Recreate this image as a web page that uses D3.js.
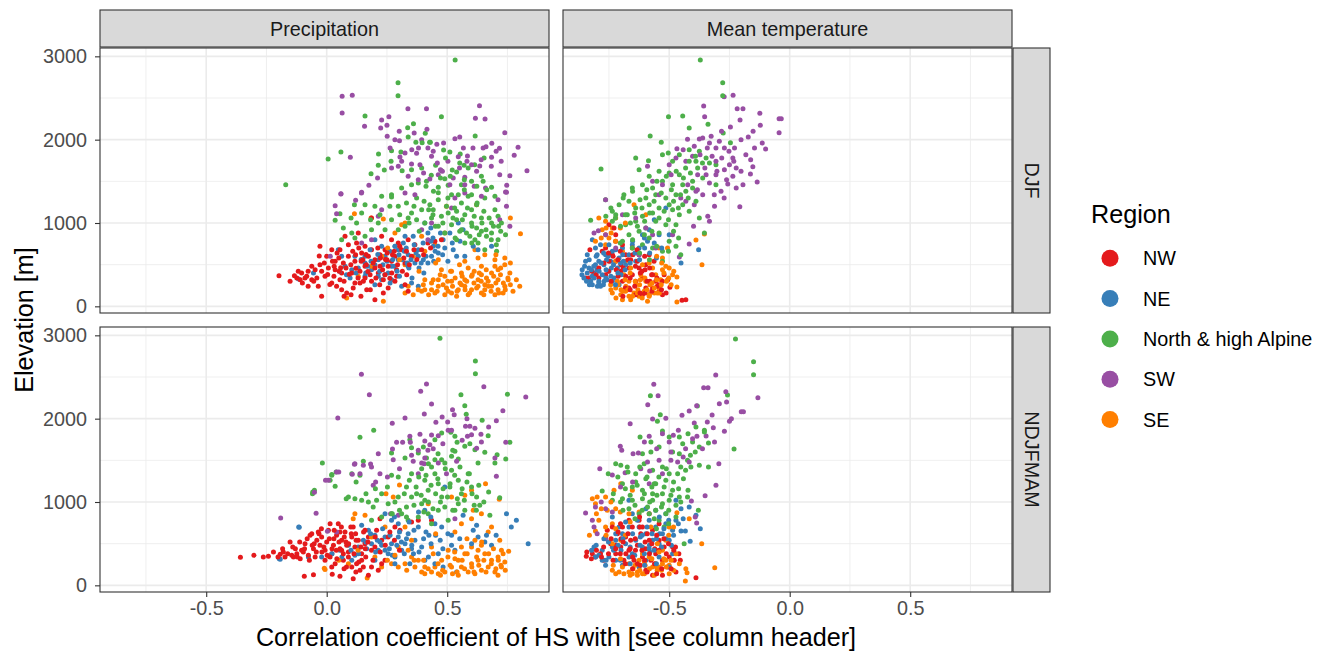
<!DOCTYPE html>
<html>
<head>
<meta charset="utf-8">
<script src="https://cdn.jsdelivr.net/npm/d3@7"></script>
<style>
  body { margin: 0; background: #fff; }
  svg { display: block; }
  text { font-family: "Liberation Sans", Arial, Helvetica, sans-serif; }
</style>
</head>
<body>
<svg id="chart" width="1327" height="657"></svg>
<script>
// ---- facet labels, categories, ticks ----
const columns = ["Precipitation", "Mean temperature"];
const rows = ["DJF", "NDJFMAM"];
const regions = ["NW", "NE", "North & high Alpine", "SW", "SE"];
const regionColors = ["#E41A1C", "#377EB8", "#4DAF4A", "#984EA3", "#FF7F00"];
const xTicks = [-0.5, 0, 0.5];
const yTicks = [0, 1000, 2000, 3000];
const xMinorTicks = [-0.75, -0.25, 0.25, 0.75];
const yMinorTicks = [500, 1500, 2500];

// ---- station values: [correlation, elevation (m)] ----
// Precipitation, DJF
const precipDJF_NW = [[-0.198,368],[-0.124,340],[-0.104,400],[-0.077,420],[-0.048,440],[-0.028,720],[-0.028,500],[-0.041,340],[-0.035,240],[-0.021,120],[-0.077,240],[0.0,600],[0.021,680],[0.035,440],[0.055,320],[0.062,200],[0.090,600],[0.104,400],[0.124,760],[0.145,640],[0.159,480],[0.138,280],[0.166,200],[0.186,680],[0.200,560],[0.214,400],[0.200,80],[0.235,160],[0.242,680],[0.255,480],[0.269,800],[0.283,600],[0.290,360],[0.311,680],[0.325,520],[0.338,800],[0.352,600],[0.366,740],[0.394,680],[0.420,760],[0.449,780],[0.476,800],[0.186,1060],[0.076,840],[0.021,280],[0.083,160],[0.110,220],[0.041,240],[-0.007,360],[-0.062,320],[-0.110,320],[-0.090,340],[-0.134,368],[-0.021,420],[0.007,460],[0.069,520],[0.117,540],[0.173,600],[0.221,620],[0.269,540],[0.290,440],[0.159,340],[0.186,300],[0.235,320],[0.255,220],[0.325,260],[0.338,180],[0.055,680],[0.131,880],[0.090,740],[0.062,400],[0.138,420],[0.221,480],[0.242,380],[0.297,760],[0.228,840],[0.159,720],[0.035,540],[0.117,280],[0.05,580],[0.10,500],[0.15,560],[0.20,460],[0.25,560],[0.12,620],[0.18,380],[0.08,460],[0.28,660],[0.32,580],[0.03,360],[-0.01,520],[0.13,340],[0.22,260],[0.27,400],
  [-0.152,300],[-0.118,420],[-0.083,362],[-0.054,300],[-0.031,604],[0.004,382],[0.013,262],[0.024,541],[0.043,640],[0.058,462],[0.072,300],[0.094,384],[0.108,662],[0.121,458],[0.143,540],[0.152,302],[0.163,622],[0.171,418],[0.193,521],[0.204,340],[0.212,700],[0.232,440],[0.244,562],[0.262,338],[0.273,620],[0.294,500],[0.303,720],[0.314,420],[0.331,660],[0.343,500],[0.362,680],[0.374,562],[0.402,620],[0.431,700],[0.101,140],[0.142,120],[0.181,200],[0.072,120],[0.251,640],[0.133,700],[0.052,420],[0.164,500],[0.223,580],[0.031,480],[-0.062,480],[-0.101,280],[0.283,300],[0.332,380]];
const precipDJF_NE = [[-0.117,328],[-0.055,400],[0.048,680],[0.076,480],[0.104,440],[0.131,460],[0.159,520],[0.186,440],[0.214,560],[0.242,600],[0.269,480],[0.297,680],[0.297,560],[0.318,760],[0.338,620],[0.359,840],[0.380,680],[0.407,1000],[0.420,880],[0.442,720],[0.463,640],[0.483,800],[0.490,700],[0.511,880],[0.525,680],[0.539,600],[0.566,920],[0.228,320],[0.200,260],[0.269,320],[0.311,240],[0.352,280],[0.380,240],[0.255,400],[0.159,360],[0.097,340],[0.062,600],[0.117,600],[0.180,680],[0.228,720],[0.283,720],[0.325,840],[0.366,520],[0.401,560],[0.435,600],[0.608,720],[0.546,1000],[0.628,680],[0.684,720],[0.573,600],[0.420,520],[0.338,480],[0.200,800],[0.159,600],[0.20,500],[0.25,540],[0.30,620],[0.35,560],[0.28,480],[0.33,700],[0.38,600],[0.40,760],[0.45,660],[0.22,420],[0.17,480],
  [0.122,400],[0.143,562],[0.184,540],[0.212,622],[0.233,500],[0.241,380],[0.262,660],[0.274,562],[0.292,420],[0.313,560],[0.322,662],[0.341,460],[0.363,740],[0.371,640],[0.392,520],[0.412,600],[0.433,780],[0.444,540],[0.462,720],[0.481,620],[0.503,540],[0.521,760],[0.472,880],[0.432,940],[0.553,780],[0.302,360],[0.263,280],[0.354,340],[0.403,400],[0.082,380],[0.053,420],[0.162,400],[0.214,360],[0.383,460],[0.334,520],[0.284,720],[0.441,820]];
const precipDJF_North = [[0.533,2956],[0.296,2684],[0.296,2528],[0.159,2284],[0.476,2276],[0.336,2144],[0.360,2192],[0.338,2032],[0.616,2044],[0.427,1968],[0.409,2076],[0.059,1852],[0.006,1768],[-0.170,1460],[0.215,1828],[0.269,1868],[0.214,1692],[0.184,1592],[0.239,1636],[0.267,1740],[0.308,1852],[0.370,1968],[0.396,1964],[0.430,1968],[0.485,1876],[0.511,1852],[0.554,1828],[0.653,1780],[0.614,1700],[0.570,1692],[0.521,1636],[0.476,1628],[0.452,1692],[0.394,1660],[0.352,1640],[0.313,1628],[0.380,1480],[0.434,1572],[0.490,1532],[0.539,1612],[0.587,1660],[0.642,1560],[0.684,1428],[0.649,1500],[0.601,1500],[0.559,1460],[0.504,1452],[0.463,1428],[0.414,1500],[0.352,1460],[0.311,1420],[0.269,1340],[0.601,1340],[0.698,1320],[0.546,1340],[0.055,1112],[0.035,1032],[0.069,940],[0.104,880],[0.062,800],[0.124,1000],[0.145,1120],[0.115,1220],[0.159,1220],[0.200,1200],[0.228,1320],[0.269,1312],[0.297,1200],[0.331,1240],[0.373,1300],[0.394,1160],[0.428,1220],[0.463,1280],[0.497,1200],[0.518,1340],[0.559,1240],[0.587,1320],[0.622,1220],[0.656,1300],[0.698,1160],[0.711,1080],[0.684,1000],[0.642,1060],[0.601,1000],[0.573,1100],[0.539,1040],[0.504,1120],[0.518,980],[0.559,920],[0.594,840],[0.628,760],[0.656,680],[0.705,660],[0.711,800],[0.684,880],[0.642,900],[0.615,800],[0.573,760],[0.539,800],[0.490,880],[0.463,960],[0.435,1060],[0.407,1000],[0.373,1040],[0.352,1120],[0.325,960],[0.297,920],[0.269,1040],[0.242,920],[0.214,1000],[0.186,920],[0.159,840],[0.117,820],[0.338,1060],[0.442,1160],[0.476,1080],[0.601,1160],[0.622,940],[0.663,840],[0.725,1000],[0.539,1140],[0.580,880],
  [0.362,1200],[0.404,1262],[0.441,1100],[0.463,1362],[0.482,1000],[0.503,1300],[0.524,1060],[0.531,1180],[0.552,900],[0.563,1040],[0.571,1400],[0.584,1180],[0.603,960],[0.612,1080],[0.624,1240],[0.633,860],[0.644,1000],[0.652,1140],[0.661,920],[0.674,1060],[0.683,800],[0.692,960],[0.704,740],[0.722,900],[0.451,960],[0.423,1160],[0.384,900],[0.342,1000],[0.303,1100],[0.262,1200],[0.221,1100],[0.472,1540],[0.513,1560],[0.412,1440],[0.571,1520],[0.623,1440],[0.664,1400],[0.552,1720],[0.493,1780],[0.443,1380],[0.602,760],[0.533,820],[0.742,860],[0.713,960],[0.101,1060],[0.182,1040]];
const precipDJF_SW = [[0.064,2520],[0.106,2532],[0.064,2320],[0.337,2372],[0.414,2372],[0.634,2408],[0.617,2256],[0.657,2248],[0.739,2084],[0.228,2236],[0.258,2276],[0.224,2140],[0.250,2172],[0.157,2160],[0.251,2040],[0.283,2000],[0.302,1988],[0.363,2080],[0.416,2124],[0.394,2000],[0.420,1900],[0.457,1944],[0.485,1960],[0.532,2012],[0.552,2032],[0.567,1900],[0.607,1900],[0.649,1900],[0.661,1916],[0.685,1956],[0.717,1896],[0.794,1908],[0.778,1812],[0.684,1788],[0.546,1796],[0.584,1804],[0.601,1700],[0.635,1684],[0.098,1788],[0.304,1792],[0.325,1840],[0.373,1836],[0.311,1740],[0.352,1708],[0.387,1700],[0.435,1800],[0.459,1720],[0.480,1620],[0.525,1540],[0.573,1548],[0.718,1580],[0.760,1568],[0.831,1628],[0.297,1680],[0.269,1660],[0.211,1540],[0.175,1452],[0.144,1360],[0.059,1348],[0.338,1560],[0.380,1520],[0.428,1528],[0.463,1580],[0.511,1460],[0.573,1460],[0.612,1440],[0.659,1420],[0.747,1452],[0.742,1372],[0.059,1352],[0.145,1368],[0.120,1272],[0.035,1208],[0.041,1112],[0.214,1080],[0.228,1160],[0.145,760],[0.186,800],[0.015,600],[0.325,1360],[0.366,1340],[0.394,920],[0.420,800],[0.435,1000],[0.573,1360],[0.642,1320],[0.711,1280],[0.746,1200],[0.760,960],[0.718,1040],[0.746,1368],[0.532,1300],[0.518,1180],
  [0.381,1900],[0.442,1862],[0.503,1740],[0.551,1660],[0.622,1620],[0.683,1680],[0.724,1740],[0.472,1640],[0.402,1600],[0.353,1880],[0.301,2100],[0.263,1900],[0.582,1740],[0.641,1760],[0.703,1860]];
const precipDJF_SE = [[0.115,1112],[0.184,1060],[0.235,1048],[0.311,980],[0.497,1200],[0.622,1220],[0.762,1060],[0.804,872],[0.490,880],[0.449,740],[0.407,660],[0.359,600],[0.325,500],[0.228,600],[0.186,480],[0.131,360],[0.083,100],[0.235,60],[0.656,620],[0.698,560],[0.739,580],[0.615,680],[0.573,540],[0.325,160],[0.359,140],[0.394,180],[0.435,200],[0.463,240],[0.497,220],[0.518,160],[0.546,200],[0.573,240],[0.601,200],[0.628,240],[0.656,200],[0.684,240],[0.711,200],[0.739,240],[0.753,320],[0.760,400],[0.711,440],[0.684,400],[0.642,380],[0.601,360],[0.559,400],[0.518,420],[0.490,360],[0.463,320],[0.476,440],[0.518,300],[0.573,320],[0.628,320],[0.670,300],[0.711,320],[0.732,160],[0.698,140],[0.642,160],[0.587,140],[0.539,120],[0.490,140],[0.449,160],[0.407,200],[0.338,240],[0.739,500],[0.698,480],[0.787,320],[0.801,240],[0.587,460],[0.642,480],[0.628,580],[0.559,260],[0.504,180],[0.656,260],[0.435,280],[0.380,200],[0.407,320],[0.325,1000],[0.394,840],[0.283,880],[0.463,560],
  [0.401,260],[0.423,140],[0.442,320],[0.458,180],[0.471,380],[0.483,260],[0.502,300],[0.514,420],[0.522,240],[0.533,340],[0.541,180],[0.553,280],[0.562,360],[0.574,200],[0.581,300],[0.593,160],[0.604,380],[0.611,280],[0.622,220],[0.633,400],[0.641,300],[0.652,140],[0.663,340],[0.671,240],[0.682,180],[0.693,360],[0.702,280],[0.714,160],[0.721,380],[0.733,280],[0.741,200],[0.752,340],[0.762,260],[0.773,180],[0.662,440],[0.612,420],[0.722,460],[0.551,500],[0.452,520],[0.383,420],[0.302,560],[0.253,700],[0.702,620],[0.762,520]];

// Mean temperature, DJF
const tempDJF_NW = [[-0.829,680],[-0.847,340],[-0.833,340],[-0.792,340],[-0.764,380],[-0.778,660],[-0.764,700],[-0.736,620],[-0.722,540],[-0.701,500],[-0.681,620],[-0.667,460],[-0.653,380],[-0.639,300],[-0.625,460],[-0.611,340],[-0.597,220],[-0.583,140],[-0.569,220],[-0.556,300],[-0.542,180],[-0.528,140],[-0.597,500],[-0.583,620],[-0.694,740],[-0.722,780],[-0.750,540],[-0.653,700],[-0.625,620],[-0.569,380],[-0.528,300],[-0.506,320],[-0.497,228],[-0.447,72],[-0.431,80],[-0.667,220],[-0.639,140],[-0.611,140],[-0.694,300],[-0.729,940],[-0.722,860],[-0.750,980],[-0.70,420],[-0.66,560],[-0.62,400],[-0.58,300],[-0.60,440],[-0.64,480],[-0.68,360],[-0.72,440],[-0.55,240],[-0.60,160],
  [-0.821,420],[-0.803,380],[-0.792,460],[-0.771,520],[-0.752,420],[-0.741,300],[-0.733,600],[-0.712,360],[-0.703,660],[-0.691,460],[-0.682,220],[-0.671,560],[-0.662,340],[-0.651,620],[-0.643,240],[-0.632,540],[-0.621,160],[-0.613,420],[-0.602,600],[-0.592,300],[-0.581,460],[-0.572,180],[-0.563,540],[-0.551,340],[-0.543,260],[-0.532,200],[-0.521,380],[-0.513,160],[-0.662,200],[-0.713,560],[-0.633,680],[-0.573,380],[-0.752,640],[-0.692,120]];
const tempDJF_NE = [[-0.861,440],[-0.854,340],[-0.847,540],[-0.826,300],[-0.819,260],[-0.812,400],[-0.806,500],[-0.799,620],[-0.819,800],[-0.792,300],[-0.785,240],[-0.778,380],[-0.771,500],[-0.764,620],[-0.757,320],[-0.750,420],[-0.743,540],[-0.736,660],[-0.729,340],[-0.715,460],[-0.708,580],[-0.694,700],[-0.681,500],[-0.667,620],[-0.653,740],[-0.639,540],[-0.625,700],[-0.611,860],[-0.590,780],[-0.583,920],[-0.562,1040],[-0.542,860],[-0.514,1180],[-0.500,860],[-0.451,520],[-0.378,680],[-0.833,460],[-0.840,620],[-0.806,700],[-0.785,740],[-0.736,300],[-0.708,260],[-0.792,540],[-0.750,740],[-0.84,400],[-0.80,440],[-0.77,300],[-0.74,460],[-0.70,380],[-0.82,360],[-0.76,560],[-0.69,540],
  [-0.862,380],[-0.851,480],[-0.843,300],[-0.832,560],[-0.823,440],[-0.812,340],[-0.803,600],[-0.798,240],[-0.791,420],[-0.782,520],[-0.773,260],[-0.762,440],[-0.753,600],[-0.742,360],[-0.731,500],[-0.722,680],[-0.713,400],[-0.702,520],[-0.683,440],[-0.662,520],[-0.642,640],[-0.623,560],[-0.602,700],[-0.581,640],[-0.562,760],[-0.553,580],[-0.531,700],[-0.831,260],[-0.792,280],[-0.763,340],[-0.813,480],[-0.772,640],[-0.723,260],[-0.693,620],[-0.652,780],[-0.603,820]];
const tempDJF_North = [[-0.371,2956],[-0.278,2684],[-0.278,2528],[-0.503,2276],[-0.444,2284],[-0.417,2140],[-0.579,2044],[-0.533,1968],[-0.339,2184],[-0.276,2080],[-0.246,1964],[-0.783,1648],[-0.639,1780],[-0.586,1748],[-0.528,1820],[-0.504,1840],[-0.486,1740],[-0.458,1820],[-0.417,1880],[-0.375,1860],[-0.333,1720],[-0.458,1580],[-0.500,1600],[-0.542,1620],[-0.583,1560],[-0.625,1640],[-0.611,1460],[-0.653,1420],[-0.688,1340],[-0.569,1420],[-0.528,1500],[-0.486,1460],[-0.444,1460],[-0.403,1500],[-0.361,1540],[-0.306,1460],[-0.389,1740],[-0.347,1780],[-0.306,1700],[-0.764,1280],[-0.826,1032],[-0.736,1140],[-0.708,1220],[-0.667,1260],[-0.639,1180],[-0.597,1300],[-0.556,1340],[-0.514,1300],[-0.472,1340],[-0.431,1380],[-0.583,1220],[-0.542,1180],[-0.500,1220],[-0.458,1100],[-0.417,1140],[-0.375,1060],[-0.736,1020],[-0.681,980],[-0.639,1020],[-0.597,940],[-0.556,1020],[-0.514,980],[-0.472,980],[-0.667,860],[-0.625,900],[-0.583,820],[-0.542,880],[-0.500,780],[-0.528,660],[-0.569,700],[-0.611,740],[-0.653,700],[-0.694,780],[-0.354,880],[-0.472,720],[-0.528,540],[-0.722,1100],[-0.674,1100],[-0.444,1220],[-0.389,1260],[-0.611,1080],[-0.569,1120],[-0.486,1160],[-0.417,1740],
  [-0.742,1180],[-0.723,1060],[-0.702,960],[-0.691,1300],[-0.682,1100],[-0.661,1000],[-0.652,1380],[-0.643,1120],[-0.632,960],[-0.621,1280],[-0.613,1180],[-0.602,1020],[-0.593,1400],[-0.581,1120],[-0.572,900],[-0.563,1260],[-0.551,1500],[-0.542,1060],[-0.533,1360],[-0.521,1140],[-0.512,1560],[-0.503,1040],[-0.491,1400],[-0.482,1260],[-0.471,1620],[-0.462,1180],[-0.453,1340],[-0.441,1540],[-0.432,1660],[-0.421,1300],[-0.412,1600],[-0.403,1420],[-0.391,1800],[-0.382,1660],[-0.362,1720],[-0.652,800],[-0.603,860],[-0.552,720],[-0.503,660],[-0.482,900],[-0.461,820],[-0.452,620],[-0.703,760],[-0.763,1080],[-0.623,640],[-0.582,560]];
const tempDJF_SW = [[-0.272,2516],[-0.235,2532],[-0.357,2404],[-0.353,2276],[-0.218,2372],[-0.194,2372],[-0.124,2316],[-0.206,2236],[-0.122,2172],[-0.044,2252],[-0.035,2252],[-0.044,2084],[-0.172,2032],[-0.246,2152],[-0.283,2100],[-0.326,2040],[-0.361,2020],[-0.375,2008],[-0.424,2004],[-0.468,1892],[-0.396,1920],[-0.333,1960],[-0.306,1900],[-0.271,1900],[-0.229,1900],[-0.146,1900],[-0.114,1960],[-0.100,1888],[-0.153,1676],[-0.163,1588],[-0.135,1492],[-0.194,1460],[-0.207,1196],[-0.222,1420],[-0.257,1468],[-0.285,1380],[-0.313,1340],[-0.333,1480],[-0.361,1340],[-0.389,1380],[-0.396,1220],[-0.431,1260],[-0.333,1020],[-0.340,1080],[-0.399,960],[-0.417,748],[-0.458,592],[-0.486,860],[-0.542,1340],[-0.528,1460],[-0.590,1680],[-0.569,1500],[-0.306,1740],[-0.250,1700],[-0.236,1780],[-0.271,1640],[-0.236,1560],[-0.222,1660],[-0.306,1580],[-0.347,1580],[-0.431,1740],[-0.472,1780],[-0.500,1700],[-0.569,860],[-0.764,1280],[-0.812,880],[-0.794,908],[-0.764,860],[-0.694,1100],[-0.639,1060],[-0.597,940],[-0.556,700],[-0.625,620],[-0.722,700],[-0.382,1580],
  [-0.442,1880],[-0.403,1800],[-0.372,1820],[-0.352,1660],[-0.322,1800],[-0.302,1620],[-0.282,1780],[-0.262,1520],[-0.252,1860],[-0.232,1740],[-0.202,1620],[-0.182,1820],[-0.162,1760],[-0.292,1980],[-0.342,1900],[-0.383,1400],[-0.423,1460],[-0.272,1300],[-0.312,1200],[-0.452,1300],[-0.492,1580],[-0.202,2000],[-0.152,2100]];
const tempDJF_SE = [[-0.792,1060],[-0.778,920],[-0.764,1020],[-0.736,940],[-0.722,1060],[-0.646,1220],[-0.597,1100],[-0.750,820],[-0.806,780],[-0.764,740],[-0.722,540],[-0.694,660],[-0.681,540],[-0.736,160],[-0.722,220],[-0.701,140],[-0.681,180],[-0.667,120],[-0.646,160],[-0.625,120],[-0.604,180],[-0.583,120],[-0.562,160],[-0.542,220],[-0.597,300],[-0.618,380],[-0.639,260],[-0.667,300],[-0.556,380],[-0.535,320],[-0.528,440],[-0.514,480],[-0.569,460],[-0.611,500],[-0.500,460],[-0.486,380],[-0.468,352],[-0.468,232],[-0.507,700],[-0.528,580],[-0.542,700],[-0.389,796],[-0.354,868],[-0.364,500],[-0.468,52],[-0.715,300],[-0.743,260],[-0.688,380],[-0.660,460],[-0.590,60],[-0.694,80],[-0.660,80],[-0.764,860],[-0.70,200],[-0.63,200],[-0.58,260],[-0.55,160],[-0.62,320],[-0.68,240],
  [-0.742,200],[-0.721,100],[-0.712,260],[-0.692,180],[-0.683,320],[-0.672,200],[-0.652,120],[-0.641,300],[-0.632,160],[-0.623,260],[-0.612,100],[-0.601,340],[-0.592,200],[-0.583,140],[-0.571,280],[-0.562,220],[-0.552,320],[-0.541,160],[-0.533,260],[-0.522,400],[-0.511,300],[-0.502,340],[-0.492,260],[-0.481,420],[-0.762,940],[-0.741,880],[-0.703,940],[-0.682,1000],[-0.782,820],[-0.723,780],[-0.662,400],[-0.583,520],[-0.552,600],[-0.531,520]];

// Precipitation, NDJFMAM
const precipExt_NW = [[-0.358,336],[-0.242,348],[-0.193,372],[-0.173,340],[-0.152,520],[-0.145,360],[-0.124,380],[-0.104,420],[-0.090,500],[-0.076,360],[-0.062,620],[-0.055,440],[-0.041,540],[-0.028,480],[-0.021,580],[-0.007,420],[0.000,520],[0.007,660],[0.014,740],[0.021,380],[0.028,480],[0.041,600],[0.048,740],[0.055,440],[0.062,540],[0.069,300],[0.076,640],[0.083,480],[0.090,400],[0.104,580],[0.110,700],[0.117,460],[0.124,260],[0.131,540],[0.145,380],[0.152,220],[0.159,500],[0.173,580],[0.186,420],[0.200,460],[0.221,800],[0.228,540],[0.242,300],[0.255,580],[0.283,700],[0.304,660],[0.352,760],[0.380,780],[0.435,780],[-0.093,108],[-0.055,128],[0.023,132],[0.055,108],[0.110,80],[0.138,180],[0.104,220],[0.035,260],[-0.007,300],[0.145,300],[0.186,220],[0.214,180],[0.228,260],[-0.138,340],[-0.110,320],[-0.180,400],[-0.048,340],[0.055,640],[0.100,700],[0.159,660],[0.207,660],[-0.069,600],[-0.035,640],[-0.097,400],[0.069,380],[0.014,340],[-0.06,480],[-0.02,400],[0.03,560],[0.08,520],[0.12,620],[0.16,440],[-0.13,440],[0.04,420],[0.09,340],
  [-0.302,360],[-0.263,340],[-0.221,400],[-0.202,340],[-0.183,440],[-0.162,380],[-0.141,460],[-0.122,340],[-0.112,520],[-0.092,440],[-0.081,560],[-0.072,300],[-0.052,500],[-0.043,400],[-0.032,620],[-0.012,460],[0.002,360],[0.011,560],[0.022,440],[0.031,660],[0.042,320],[0.051,520],[0.062,420],[0.073,580],[0.082,220],[0.091,500],[0.102,620],[0.113,380],[0.122,540],[0.133,280],[0.142,460],[0.153,640],[0.162,340],[0.171,520],[0.192,300],[0.201,580],[0.222,400],[0.243,480],[0.262,640],[0.281,540],[0.302,420],[0.121,160],[0.072,200],[0.173,120],[0.021,220],[-0.022,680],[0.061,700]];
const precipExt_NE = [[-0.197,320],[-0.114,696],[-0.193,312],[-0.116,700],[-0.076,340],[-0.021,340],[0.055,420],[0.090,480],[0.117,360],[0.131,460],[0.152,540],[0.166,440],[0.186,500],[0.200,600],[0.214,420],[0.228,480],[0.242,580],[0.255,380],[0.269,500],[0.283,340],[0.297,580],[0.311,420],[0.325,500],[0.338,620],[0.352,440],[0.366,540],[0.380,700],[0.394,460],[0.407,300],[0.297,740],[0.269,780],[0.242,860],[0.407,900],[0.449,740],[0.490,1180],[0.477,700],[0.518,600],[0.532,420],[0.518,480],[0.566,840],[0.608,660],[0.628,580],[0.656,520],[0.663,600],[0.684,480],[0.746,860],[0.787,780],[0.766,700],[0.836,500],[0.424,600],[0.449,260],[0.483,220],[0.539,160],[0.463,380],[0.173,660],[0.145,720],[0.283,260],[0.345,260],[0.200,300],[0.104,300],[0.21,540],[0.26,440],[0.31,520],[0.36,380],
  [0.022,380],[0.063,340],[0.101,420],[0.132,380],[0.163,520],[0.182,620],[0.203,400],[0.221,520],[0.242,420],[0.263,600],[0.272,360],[0.291,480],[0.302,640],[0.322,380],[0.331,560],[0.353,480],[0.362,660],[0.383,400],[0.402,560],[0.412,640],[0.433,500],[0.452,600],[0.471,540],[0.503,620],[0.232,680],[0.281,820],[0.342,760],[0.381,880],[0.432,820],[0.552,560],[0.601,500],[0.622,720],[0.703,600],[0.482,440],[0.422,340]];
const precipExt_North = [[0.470,2964],[0.617,2692],[0.617,2540],[0.750,2292],[0.557,2288],[0.573,2156],[0.579,2052],[0.645,1980],[0.670,1796],[0.760,1716],[0.743,1516],[0.707,1568],[0.656,1596],[0.594,1700],[0.615,1628],[0.573,1668],[0.532,1788],[0.515,1836],[0.477,1828],[0.541,1716],[0.532,1608],[0.546,1516],[0.518,1548],[0.477,1508],[0.449,1748],[0.401,1660],[0.380,1588],[0.345,1748],[0.352,1652],[0.414,1528],[0.325,1528],[0.269,1588],[0.195,1860],[0.138,1776],[-0.018,1468],[0.152,1488],[0.449,1508],[0.490,1468],[0.628,1468],[0.698,1468],[0.021,1330],[0.035,1190],[-0.058,1120],[-0.051,1140],[-0.059,1100],[0.021,1320],[0.014,1260],[0.039,1360],[0.138,1320],[0.104,1340],[0.090,1060],[0.117,1040],[0.145,1020],[0.173,1000],[0.193,940],[0.228,1100],[0.255,980],[0.269,1320],[0.297,1300],[0.331,1180],[0.352,1060],[0.373,1100],[0.394,980],[0.407,1260],[0.421,1140],[0.435,1420],[0.449,1340],[0.463,1220],[0.477,1060],[0.490,940],[0.504,780],[0.518,1380],[0.546,1260],[0.559,1100],[0.587,1340],[0.601,1180],[0.622,1060],[0.635,960],[0.677,840],[0.718,1052],[0.331,940],[0.311,860],[0.338,780],[0.380,820],[0.421,860],[0.435,740],[0.463,900],[0.546,980],[0.573,900],[0.269,860],[0.228,820],[0.186,780],[0.207,1020],[0.297,1060],[0.407,1020],[0.511,1180],[0.532,900],[0.352,1340],[0.394,1400],
  [0.252,1180],[0.283,1000],[0.302,900],[0.322,1100],[0.343,1260],[0.362,960],[0.371,1180],[0.392,1080],[0.403,880],[0.412,1320],[0.422,1000],[0.433,1200],[0.441,920],[0.452,1100],[0.461,1280],[0.472,1000],[0.483,1160],[0.492,1400],[0.501,1060],[0.512,1220],[0.523,900],[0.531,1320],[0.542,1040],[0.562,1160],[0.571,1020],[0.582,1240],[0.603,1100],[0.612,960],[0.631,1200],[0.652,1000],[0.672,1120],[0.202,1160],[0.163,1100],[0.122,1240],[0.081,1040],[0.462,1580],[0.523,1620],[0.422,1460],[0.382,1300],[0.553,1420],[0.592,1340],[0.621,900],[0.272,860],[0.331,820]];
const precipExt_SW = [[0.144,2532],[0.177,2288],[0.046,2008],[0.414,2416],[0.390,2328],[0.435,2176],[0.652,2384],[0.826,2260],[0.522,2108],[0.529,2048],[0.479,2020],[0.453,1956],[0.405,2056],[0.325,2008],[0.272,1944],[0.704,1976],[0.731,2096],[0.576,1908],[0.594,1908],[0.615,1884],[0.601,1808],[0.640,1812],[0.584,1788],[0.504,1860],[0.518,1860],[0.463,1796],[0.435,1804],[0.407,1732],[0.387,1812],[0.345,1788],[0.347,1716],[0.290,1716],[0.315,1716],[0.273,1636],[0.276,1508],[0.214,1580],[0.428,1688],[0.420,1620],[0.380,1620],[0.407,1528],[0.359,1488],[0.394,1468],[0.622,1644],[0.743,1716],[0.117,1460],[0.182,1456],[0.463,1468],[0.539,1488],[0.698,1528],[-0.191,808],[-0.044,864],[-0.051,1116],[-0.005,1260],[0.050,1360],[0.003,648],[0.041,1360],[0.007,1260],[0.115,1452],[0.152,1440],[0.186,1420],[0.106,1332],[0.138,1340],[0.193,1200],[0.221,1340],[0.265,860],[0.297,840],[0.380,1340],[0.405,1460],[0.497,1340],[0.704,1308],[0.532,800],[0.041,640],
  [0.302,1400],[0.352,1560],[0.442,1640],[0.482,1700],[0.562,1740],[0.642,1720],[0.672,1900],[0.252,1300],[0.203,1240],[0.502,1960],[0.582,2000]];
const precipExt_SE = [[-0.007,190],[0.008,350],[-0.010,204],[0.168,88],[0.117,860],[0.110,800],[0.159,840],[0.246,1100],[0.276,1060],[0.302,1204],[0.421,980],[0.518,1060],[0.573,1080],[0.601,1140],[0.659,1220],[0.716,1032],[0.608,900],[0.642,860],[0.601,800],[0.559,740],[0.532,640],[0.684,700],[0.718,540],[0.670,640],[0.755,408],[0.725,420],[0.711,340],[0.684,300],[0.656,380],[0.628,420],[0.601,460],[0.573,380],[0.546,300],[0.518,220],[0.490,160],[0.463,140],[0.435,160],[0.407,220],[0.380,300],[0.352,340],[0.325,260],[0.297,220],[0.269,260],[0.228,220],[0.200,340],[0.338,420],[0.366,220],[0.407,140],[0.449,220],[0.477,300],[0.504,420],[0.532,320],[0.559,220],[0.587,160],[0.615,140],[0.642,180],[0.670,220],[0.698,160],[0.725,220],[0.739,280],[0.628,300],[0.601,260],[0.559,460],[0.615,540],[0.642,480],[0.352,540],[0.297,460],[0.186,580],[0.242,700],[0.325,700],[0.435,460],[0.394,160],[0.711,120],[0.546,120],[0.05,300],[0.09,260],[0.13,420],
  [0.402,300],[0.421,200],[0.442,380],[0.462,260],[0.481,180],[0.503,340],[0.512,240],[0.531,400],[0.541,160],[0.562,300],[0.572,200],[0.583,380],[0.602,220],[0.611,160],[0.622,340],[0.631,240],[0.652,300],[0.661,160],[0.672,380],[0.683,260],[0.702,200],[0.712,300],[0.723,240],[0.732,380],[0.741,180],[0.692,440],[0.643,520],[0.582,560],[0.452,620],[0.363,300],[0.332,180],[0.283,360],[0.252,300],[0.522,140],[0.472,120]];

// Mean temperature, NDJFMAM
const tempExt_NW = [[-0.844,348],[-0.819,380],[-0.806,340],[-0.785,380],[-0.771,300],[-0.764,580],[-0.757,660],[-0.743,500],[-0.722,380],[-0.715,620],[-0.701,460],[-0.688,300],[-0.681,580],[-0.667,420],[-0.653,700],[-0.646,300],[-0.632,480],[-0.618,620],[-0.611,340],[-0.597,440],[-0.583,540],[-0.576,300],[-0.569,660],[-0.556,380],[-0.542,540],[-0.528,300],[-0.521,460],[-0.507,220],[-0.500,340],[-0.486,460],[-0.479,300],[-0.474,460],[-0.460,380],[-0.454,300],[-0.389,92],[-0.528,120],[-0.569,120],[-0.597,180],[-0.472,160],[-0.625,780],[-0.667,780],[-0.694,700],[-0.736,700],[-0.583,860],[-0.542,740],[-0.611,700],[-0.660,540],[-0.72,480],[-0.68,380],[-0.64,420],[-0.60,520],[-0.56,440],[-0.62,240],[-0.70,560],
  [-0.842,400],[-0.823,320],[-0.802,420],[-0.781,340],[-0.772,460],[-0.752,380],[-0.741,560],[-0.733,300],[-0.722,440],[-0.712,640],[-0.703,380],[-0.691,520],[-0.682,260],[-0.671,620],[-0.662,440],[-0.652,340],[-0.641,560],[-0.632,260],[-0.622,700],[-0.613,420],[-0.602,300],[-0.591,620],[-0.582,380],[-0.572,500],[-0.561,260],[-0.552,600],[-0.543,420],[-0.531,200],[-0.522,560],[-0.512,380],[-0.503,500],[-0.492,200],[-0.481,420],[-0.652,200],[-0.592,160],[-0.552,140],[-0.702,740],[-0.623,820]];
const tempExt_NE = [[-0.812,460],[-0.778,420],[-0.764,240],[-0.750,340],[-0.736,460],[-0.722,540],[-0.708,700],[-0.694,620],[-0.681,500],[-0.667,700],[-0.653,860],[-0.639,540],[-0.625,700],[-0.611,460],[-0.597,620],[-0.583,780],[-0.569,540],[-0.556,700],[-0.542,500],[-0.528,620],[-0.514,740],[-0.500,540],[-0.486,660],[-0.472,1020],[-0.472,780],[-0.451,652],[-0.433,652],[-0.413,528],[-0.389,840],[-0.371,680],[-0.451,920],[-0.417,940],[-0.778,300],[-0.722,300],[-0.667,340],[-0.597,300],[-0.542,340],[-0.486,380],[-0.583,440],[-0.653,380],[-0.694,240],[-0.625,220],[-0.500,220],[-0.514,860],[-0.556,900],[-0.597,920],[-0.667,1020],[-0.736,820],[-0.806,340],[-0.62,580],[-0.58,400],[-0.54,620],[-0.70,420],
  [-0.822,420],[-0.803,480],[-0.792,360],[-0.771,560],[-0.762,300],[-0.752,520],[-0.731,420],[-0.722,620],[-0.712,480],[-0.703,300],[-0.692,560],[-0.681,760],[-0.662,460],[-0.652,620],[-0.643,360],[-0.632,780],[-0.621,480],[-0.612,600],[-0.603,380],[-0.592,700],[-0.582,480],[-0.571,620],[-0.562,420],[-0.553,560],[-0.541,820],[-0.532,460],[-0.522,680],[-0.513,560],[-0.502,780],[-0.491,480],[-0.482,600],[-0.462,740],[-0.442,800],[-0.602,240],[-0.662,260],[-0.553,260]];
const tempExt_North = [[-0.225,2956],[-0.150,2684],[-0.150,2528],[-0.258,2284],[-0.231,1636],[-0.578,2276],[-0.537,2048],[-0.549,1968],[-0.383,2152],[-0.354,1860],[-0.337,1708],[-0.458,1780],[-0.422,1820],[-0.528,1852],[-0.500,1780],[-0.621,1780],[-0.576,1720],[-0.542,1660],[-0.576,1600],[-0.611,1580],[-0.486,1600],[-0.444,1700],[-0.403,1720],[-0.375,1660],[-0.354,1840],[-0.722,1460],[-0.753,1340],[-0.701,1440],[-0.674,1420],[-0.639,1340],[-0.604,1460],[-0.569,1380],[-0.528,1420],[-0.500,1340],[-0.465,1340],[-0.424,1500],[-0.410,1420],[-0.375,1440],[-0.337,1420],[-0.639,1240],[-0.597,1280],[-0.556,1220],[-0.514,1260],[-0.486,1140],[-0.528,1100],[-0.569,1100],[-0.611,1140],[-0.653,1180],[-0.694,1220],[-0.778,1132],[-0.736,1020],[-0.694,1040],[-0.653,1020],[-0.611,1040],[-0.569,1020],[-0.528,980],[-0.500,1020],[-0.458,1060],[-0.424,1060],[-0.590,940],[-0.556,900],[-0.514,860],[-0.625,860],[-0.667,920],[-0.542,780],[-0.521,700],[-0.379,900],[-0.438,500],[-0.562,1220],[-0.458,1580],[-0.389,1900],
  [-0.732,1100],[-0.713,1300],[-0.702,1000],[-0.682,1160],[-0.671,1360],[-0.662,1080],[-0.642,960],[-0.633,1200],[-0.622,1420],[-0.612,900],[-0.603,1100],[-0.592,1300],[-0.581,1000],[-0.572,1180],[-0.562,800],[-0.551,1080],[-0.543,1300],[-0.532,940],[-0.521,1180],[-0.512,1400],[-0.502,900],[-0.493,1080],[-0.482,1240],[-0.472,960],[-0.461,1160],[-0.452,1420],[-0.441,1280],[-0.432,1380],[-0.412,1560],[-0.392,1600],[-0.553,680],[-0.502,740],[-0.472,820],[-0.583,860],[-0.642,800],[-0.692,900],[-0.452,1000],[-0.422,1140]];
const tempExt_SW = [[-0.564,2412],[-0.546,2276],[-0.589,2168],[-0.307,2524],[-0.357,2372],[-0.339,2372],[-0.265,2324],[-0.132,2252],[-0.386,2156],[-0.322,2044],[-0.201,2084],[-0.192,2084],[-0.250,1968],[-0.271,1848],[-0.317,1892],[-0.347,1792],[-0.385,1788],[-0.396,1948],[-0.417,2092],[-0.447,2040],[-0.514,2004],[-0.569,1996],[-0.662,1940],[-0.528,1820],[-0.483,1800],[-0.500,1720],[-0.583,1788],[-0.703,1668],[-0.697,1620],[-0.628,1588],[-0.650,1580],[-0.542,1500],[-0.590,1480],[-0.528,1340],[-0.581,1372],[-0.618,1400],[-0.683,1352],[-0.736,1324],[-0.788,1400],[-0.442,1540],[-0.493,1500],[-0.465,1480],[-0.417,1480],[-0.294,1460],[-0.306,1200],[-0.351,1076],[-0.408,1012],[-0.392,820],[-0.386,748],[-0.847,868],[-0.806,940],[-0.819,780],[-0.812,700],[-0.799,620],[-0.764,560],[-0.736,880],[-0.764,920],[-0.583,1220],[-0.493,1600],
  [-0.462,1860],[-0.432,1640],[-0.403,1760],[-0.362,1640],[-0.342,1960],[-0.312,1720],[-0.292,2180],[-0.262,2200],[-0.242,2000],[-0.552,1640],[-0.603,1720],[-0.652,1240],[-0.702,1180],[-0.782,1000]];
const tempExt_SE = [[-0.819,1040],[-0.806,980],[-0.799,1060],[-0.764,1060],[-0.729,1140],[-0.701,1220],[-0.653,1140],[-0.757,900],[-0.792,780],[-0.831,600],[-0.806,652],[-0.764,700],[-0.736,740],[-0.722,920],[-0.667,860],[-0.625,880],[-0.736,180],[-0.722,140],[-0.708,160],[-0.688,140],[-0.667,160],[-0.653,140],[-0.632,160],[-0.611,140],[-0.590,180],[-0.569,220],[-0.556,260],[-0.542,220],[-0.528,260],[-0.514,300],[-0.500,240],[-0.528,420],[-0.549,500],[-0.514,540],[-0.500,700],[-0.468,872],[-0.417,800],[-0.365,500],[-0.311,212],[-0.426,152],[-0.431,200],[-0.433,52],[-0.458,260],[-0.500,140],[-0.625,300],[-0.667,260],[-0.694,220],[-0.583,340],[-0.611,380],[-0.701,540],[-0.736,500],[-0.576,700],[-0.60,240],[-0.65,200],[-0.55,180],
  [-0.802,860],[-0.782,920],[-0.762,600],[-0.742,1000],[-0.722,680],[-0.703,880],[-0.682,600],[-0.662,760],[-0.642,240],[-0.622,180],[-0.603,280],[-0.582,200],[-0.572,320],[-0.552,220],[-0.532,180],[-0.522,320],[-0.512,220],[-0.492,300],[-0.482,180],[-0.472,380],[-0.702,320],[-0.662,120],[-0.632,120],[-0.603,140],[-0.562,120],[-0.542,400],[-0.502,600],[-0.482,700],[-0.732,240]];

// ---- layout ----
const svg = d3.select("#chart");
const panelW = 449, panelH = 265;
const colX = [100, 563];
const rowY = [48, 327];
const stripTop = 10, stripSize = 37;
const rightStripX = 1013;

const x = d3.scaleLinear().domain([-0.9407, 0.9224]).range([0, panelW]);
const y = d3.scaleLinear().domain([-80, 3100]).range([panelH, 0]);
const color = d3.scaleOrdinal().domain(regions).range(regionColors);

const panels = [
  { col: 0, row: 0, series: [precipDJF_NW, precipDJF_NE, precipDJF_North, precipDJF_SW, precipDJF_SE] },
  { col: 1, row: 0, series: [tempDJF_NW, tempDJF_NE, tempDJF_North, tempDJF_SW, tempDJF_SE] },
  { col: 0, row: 1, series: [precipExt_NW, precipExt_NE, precipExt_North, precipExt_SW, precipExt_SE] },
  { col: 1, row: 1, series: [tempExt_NW, tempExt_NE, tempExt_North, tempExt_SW, tempExt_SE] }
];

const gridCol = "#EBEBEB", darkCol = "#333333";
const smallFont = 19.8, titleFont = 25.2;

panels.forEach(p => {
  const g = svg.append("g").attr("transform", `translate(${colX[p.col]},${rowY[p.row]})`);
  g.append("rect").attr("width", panelW).attr("height", panelH).attr("fill", "#fff");

  // minor grid
  g.selectAll(".xminor").data(xMinorTicks).join("line")
    .attr("x1", d => x(d)).attr("x2", d => x(d)).attr("y1", 0).attr("y2", panelH)
    .attr("stroke", gridCol).attr("stroke-width", 0.8);
  g.selectAll(".yminor").data(yMinorTicks).join("line")
    .attr("y1", d => y(d)).attr("y2", d => y(d)).attr("x1", 0).attr("x2", panelW)
    .attr("stroke", gridCol).attr("stroke-width", 0.8);
  // major grid
  g.selectAll(".xmajor").data(xTicks).join("line")
    .attr("x1", d => x(d)).attr("x2", d => x(d)).attr("y1", 0).attr("y2", panelH)
    .attr("stroke", gridCol).attr("stroke-width", 1.6);
  g.selectAll(".ymajor").data(yTicks).join("line")
    .attr("y1", d => y(d)).attr("y2", d => y(d)).attr("x1", 0).attr("x2", panelW)
    .attr("stroke", gridCol).attr("stroke-width", 1.6);

  // points, interleaved across regions so no single region sits entirely on top
  const pts = [];
  const n = d3.max(p.series, s => s.length);
  for (let i = 0; i < n; i++) {
    p.series.forEach((s, k) => { if (i < s.length) pts.push({ v: s[i], k }); });
  }
  g.append("g").selectAll("circle").data(pts).join("circle")
    .attr("cx", d => x(d.v[0])).attr("cy", d => y(d.v[1])).attr("r", 2.5)
    .attr("fill", d => color(regions[d.k]));

  // panel border
  g.append("rect").attr("width", panelW).attr("height", panelH)
    .attr("fill", "none").attr("stroke", darkCol).attr("stroke-width", 1.1);

  // axes
  if (p.col === 0) {
    const ay = g.append("g").call(d3.axisLeft(y).tickValues(yTicks).tickSize(5).tickPadding(8).tickFormat(d => String(d)));
    ay.select(".domain").remove();
    ay.selectAll("line").attr("stroke", darkCol).attr("stroke-width", 1.1);
    ay.selectAll("text").attr("fill", "#4D4D4D").style("font-size", smallFont + "px")
      .style("font-family", "'Liberation Sans', Arial, sans-serif");
  }
  if (p.row === 1) {
    const ax = g.append("g").attr("transform", `translate(0,${panelH})`)
      .call(d3.axisBottom(x).tickValues(xTicks).tickSize(5).tickPadding(4).tickFormat(d => d.toFixed(1)));
    ax.select(".domain").remove();
    ax.selectAll("line").attr("stroke", darkCol).attr("stroke-width", 1.1);
    ax.selectAll("text").attr("fill", "#4D4D4D").style("font-size", smallFont + "px")
      .style("font-family", "'Liberation Sans', Arial, sans-serif");
  }
});

// column strips
columns.forEach((c, i) => {
  svg.append("rect").attr("x", colX[i]).attr("y", stripTop).attr("width", panelW).attr("height", stripSize)
    .attr("fill", "#D9D9D9").attr("stroke", darkCol).attr("stroke-width", 1.1);
  svg.append("text").attr("x", colX[i] + panelW / 2).attr("y", stripTop + stripSize / 2 + 7)
    .attr("text-anchor", "middle").attr("fill", "#1A1A1A").style("font-size", smallFont + "px").text(c);
});
// row strips
rows.forEach((r, i) => {
  svg.append("rect").attr("x", rightStripX).attr("y", rowY[i]).attr("width", stripSize).attr("height", panelH)
    .attr("fill", "#D9D9D9").attr("stroke", darkCol).attr("stroke-width", 1.1);
  const cx = rightStripX + stripSize / 2, cy = rowY[i] + panelH / 2;
  svg.append("text").attr("transform", `translate(${cx - 7},${cy}) rotate(90)`)
    .attr("text-anchor", "middle").attr("fill", "#1A1A1A").style("font-size", smallFont + "px").text(r);
});

// axis titles
svg.append("text").attr("x", (colX[0] + colX[1] + panelW) / 2).attr("y", 646)
  .attr("text-anchor", "middle").attr("fill", "#000").style("font-size", titleFont + "px")
  .text("Correlation coefficient of HS with [see column header]");
svg.append("text").attr("transform", `translate(33,${(rowY[0] + rowY[1] + panelH) / 2}) rotate(-90)`)
  .attr("text-anchor", "middle").attr("fill", "#000").style("font-size", titleFont + "px")
  .text("Elevation [m]");

// legend
const lg = svg.append("g");
lg.append("text").attr("x", 1091).attr("y", 223).attr("fill", "#000")
  .style("font-size", titleFont + "px").text("Region");
regions.forEach((r, i) => {
  const cy = 258.3 + i * 40.3;
  lg.append("circle").attr("cx", 1110).attr("cy", cy).attr("r", 8.5).attr("fill", color(r));
  lg.append("text").attr("x", 1143).attr("y", cy + 7).attr("fill", "#000")
    .style("font-size", smallFont + "px").text(r);
});
</script>
</body>
</html>
